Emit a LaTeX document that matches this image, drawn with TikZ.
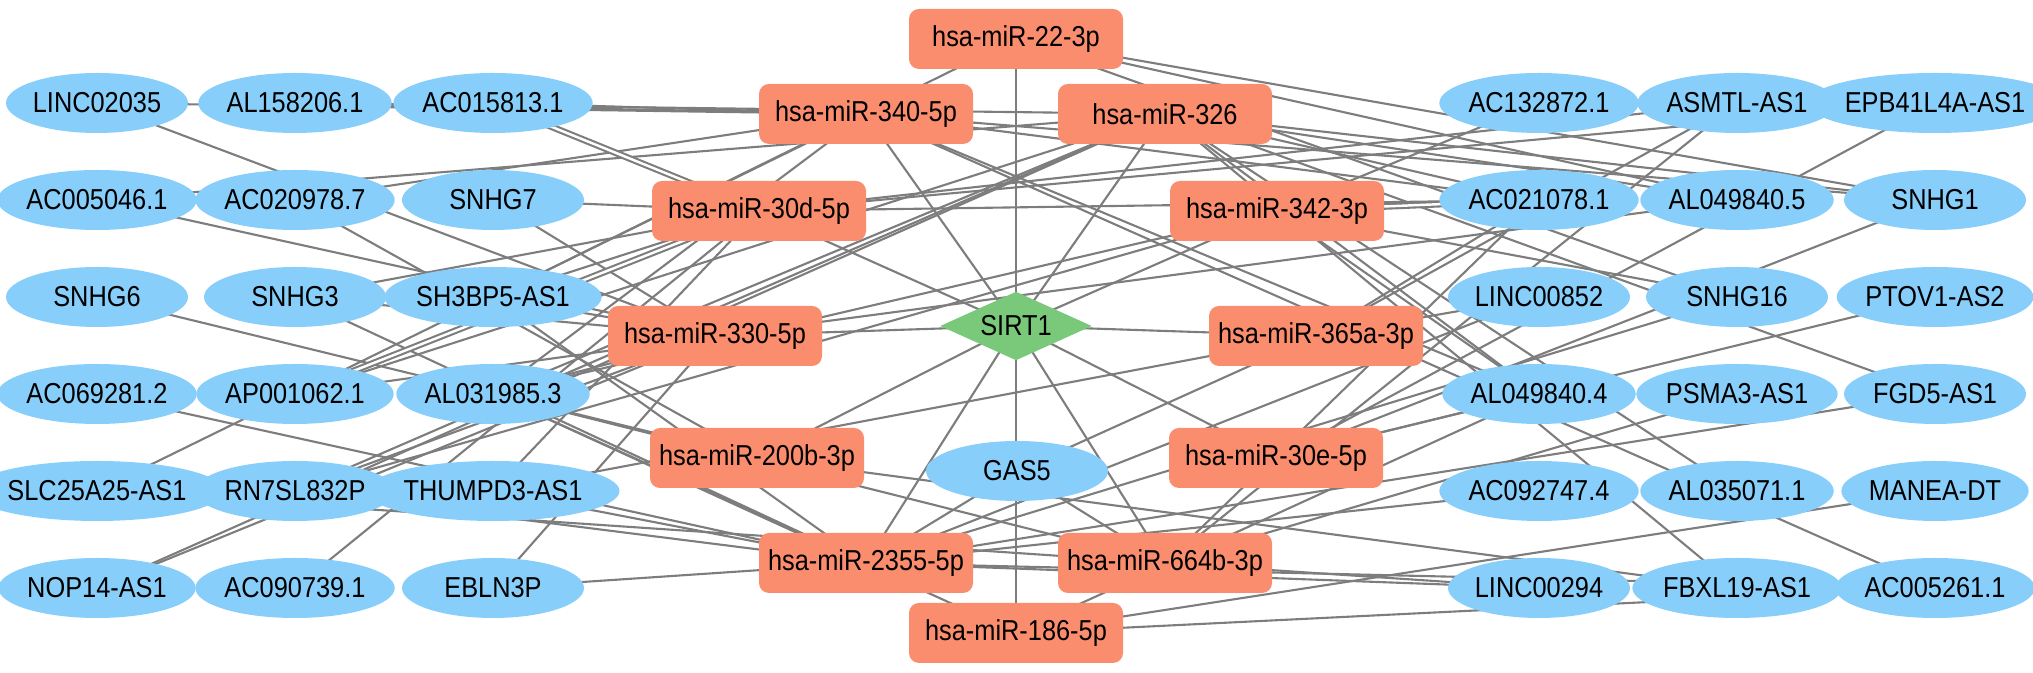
\documentclass[tikz,border=0pt]{standalone}
\usepackage{fontspec}
\setmainfont{Liberation Sans}[FakeStretch=0.88]
\usetikzlibrary{shapes.geometric,backgrounds}
\definecolor{lncblue}{RGB}{135,206,250}
\definecolor{mirorange}{RGB}{250,141,110}
\definecolor{hubgreen}{RGB}{122,200,122}
\definecolor{linkgray}{RGB}{125,125,125}
\newcommand{\labelfont}{\fontsize{8.2pt}{9pt}\selectfont}
\tikzset{
  lnc/.style={ellipse, fill=lncblue, minimum width=18.2mm, minimum height=6mm, inner sep=0pt, font=\labelfont},
  mir/.style={rectangle, rounded corners=1mm, fill=mirorange, minimum width=21.4mm, minimum height=6mm, inner sep=0pt, font=\labelfont},
  hub/.style={diamond, fill=hubgreen, shape aspect=2.2, minimum width=15.2mm, minimum height=6.9mm, inner sep=0pt, font=\labelfont},
  link/.style={draw=linkgray, line width=0.6pt},
  dbl/.style={link, double=white, double distance=0.7pt}
}
\begin{document}
\begin{tikzpicture}[x=0.1mm, y=-0.1mm]
    \useasboundingbox (0,0) rectangle (2033,673);

    % lncRNA, left block
    \foreach \id/\txt/\x/\y in {
        linc02035/LINC02035/97/103, al158206/AL158206.1/295/103, ac015813/AC015813.1/493/103,
        ac005046/AC005046.1/97/200, ac020978/AC020978.7/295/200, snhg7/SNHG7/493/200,
        snhg6/SNHG6/97/297, snhg3/SNHG3/295/297, sh3bp5/SH3BP5-AS1/493/297,
        ac069281/AC069281.2/97/394, ap001062/AP001062.1/295/394, al031985/AL031985.3/493/394,
        slc25a25/SLC25A25-AS1/97/491, rn7sl832p/RN7SL832P/295/491, thumpd3/THUMPD3-AS1/493/491,
        nop14/NOP14-AS1/97/588, ac090739/AC090739.1/295/588, ebln3p/EBLN3P/493/588}
        \node[lnc] (\id) at (\x,\y) {\txt};

    % lncRNA, right block
    \foreach \id/\txt/\x/\y in {
        ac132872/AC132872.1/1539/103, asmtl/ASMTL-AS1/1737/103, epb41l4a/EPB41L4A-AS1/1935/103,
        ac021078/AC021078.1/1539/200, al0498405/AL049840.5/1737/200, snhg1/SNHG1/1935/200,
        linc00852/LINC00852/1539/297, snhg16/SNHG16/1737/297, ptov1/PTOV1-AS2/1935/297,
        al0498404/AL049840.4/1539/394, psma3/PSMA3-AS1/1737/394, fgd5/FGD5-AS1/1935/394,
        ac092747/AC092747.4/1539/491, al035071/AL035071.1/1737/491, maneadt/MANEA-DT/1935/491,
        linc00294/LINC00294/1539/588, fbxl19/FBXL19-AS1/1737/588, ac005261/AC005261.1/1935/588}
        \node[lnc] (\id) at (\x,\y) {\txt};

    % miRNA ring
    \foreach \id/\txt/\x/\y in {
        m22/hsa-miR-22-3p/1016/39, m340/hsa-miR-340-5p/866/114, m326/hsa-miR-326/1165/114,
        m30d/hsa-miR-30d-5p/759/211, m342/hsa-miR-342-3p/1277/211,
        m330/hsa-miR-330-5p/715/336, m365a/hsa-miR-365a-3p/1316/336,
        m200b/hsa-miR-200b-3p/757/458, m30e/hsa-miR-30e-5p/1276/458,
        m2355/hsa-miR-2355-5p/866/563, m664b/hsa-miR-664b-3p/1165/563, m186/hsa-miR-186-5p/1016/633}
        \node[mir] (\id) at (\x,\y) {\txt};

    \node[hub] (sirt1) at (1016,326) {SIRT1};
    \node[lnc] (gas5) at (1017,471) {GAS5};

    % connectors
    \begin{pgfonlayer}{background}
    \foreach \m in {m22,m340,m326,m30d,m342,m330,m365a,m200b,m30e,m2355,m664b}
        \draw[link] (sirt1.center) -- (\m.center);
    \draw[link] (sirt1.center) -- (m186.center);
    \foreach \a/\b in {
        linc02035/m340, linc02035/m330, al158206/m340, al158206/m326, ac015813/m340,
        ac005046/m326, ac005046/m330, ac020978/m340, ac020978/m200b,
        snhg7/m30d, snhg7/m330, snhg6/m200b, snhg3/m30d, snhg3/m330, snhg3/m2355,
        sh3bp5/m22, sh3bp5/m30d, sh3bp5/m330, sh3bp5/m2355, ac069281/m2355,
        ap001062/m330, ap001062/m326,
        al031985/m330, al031985/m326, al031985/m340, al031985/m342, al031985/m2355,
        al031985/m186, al031985/m664b, slc25a25/m340, slc25a25/m664b,
        rn7sl832p/m326, rn7sl832p/m330, rn7sl832p/m342, rn7sl832p/m2355,
        thumpd3/m30d, thumpd3/m2355, thumpd3/m365a, nop14/m330, nop14/m326,
        ac090739/m30d, ebln3p/m330, ebln3p/m2355}
        \draw[link] (\a.center) -- (\b.center);
    \foreach \a/\b in {
        ac132872/m342, asmtl/m365a, asmtl/m30d, asmtl/m664b, epb41l4a/m30e, epb41l4a/m30d,
        ac021078/m30d, ac021078/m326, ac021078/m340, ac021078/m365a, ac021078/m664b,
        al0498405/m22, al0498405/m326, al0498405/m330,
        snhg1/m22, snhg1/m340, snhg1/m326, snhg1/m30e,
        linc00852/m365a, linc00852/m2355, snhg16/m22, snhg16/m342, snhg16/m2355,
        ptov1/m30e, al0498404/m340, al0498404/m326, al0498404/m342, al0498404/m30e,
        al0498404/m186, psma3/m664b, fgd5/m326, fgd5/m2355, ac092747/m2355,
        al035071/m326, maneadt/m186, linc00294/m664b, linc00294/m2355,
        fbxl19/m326, fbxl19/m200b, ac005261/m340, ac005261/m186, ac005261/m2355,
        gas5/m365a, gas5/m2355, gas5/m664b}
        \draw[link] (\a.center) -- (\b.center);
    % paired links
    \foreach \a/\b in {ac015813/m30d, ap001062/m30d, ac021078/m342}
        \draw[dbl] (\a.center) -- (\b.center);
    \end{pgfonlayer}
\end{tikzpicture}
\end{document}
